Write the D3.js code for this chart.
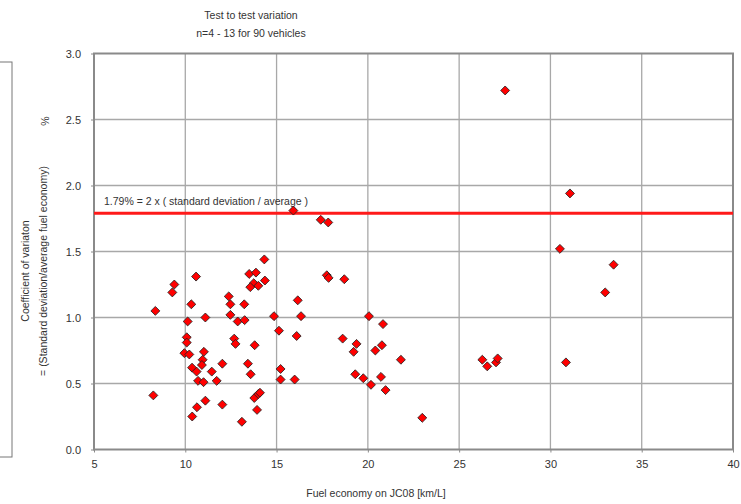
<!DOCTYPE html>
<html>
<head>
<meta charset="utf-8">
<script src="https://cdn.jsdelivr.net/npm/d3@7.9.0/dist/d3.min.js"></script>
<style>
  body { margin: 0; background: #fff; }
  svg { display: block; font-family: "Liberation Sans", Arial, sans-serif; }
</style>
</head>
<body>
<svg id="chart" width="741" height="504"></svg>
<script>
// Fuel economy (km/L) per vehicle
const fuelEconomy = [
  27.52, 31.07, 30.52, 33.46, 33.0, 30.85, 26.27, 26.54, 27.02, 27.11,
  15.92, 17.42, 17.83, 14.33, 14.36, 17.75, 17.85, 18.71, 16.16, 14.86,
  16.34, 15.13, 16.1, 20.06, 20.83, 18.62, 19.38, 19.22, 20.41, 20.77,
  21.81, 15.22, 15.22, 15.99, 19.31, 19.75, 20.17, 20.72, 20.97, 22.98,
  10.59, 9.4, 9.29, 13.5, 13.87, 13.75, 13.56, 14.0, 8.36, 10.33,
  12.38, 12.47, 13.23, 11.1, 12.47, 12.87, 13.25, 10.13, 10.08, 10.08,
  12.68, 12.75, 13.8, 9.95, 10.22, 11.02, 10.95, 10.91, 10.37, 10.62,
  11.45, 12.03, 13.43, 13.58, 10.7, 11.0, 11.72, 8.25, 11.1, 10.64,
  10.38, 12.03, 13.1, 13.78, 14.0, 14.09, 13.93
];
// Coefficient of variation (%) per vehicle, same order
const coefVariation = [
  2.72, 1.94, 1.52, 1.40, 1.19, 0.66, 0.68, 0.63, 0.66, 0.69,
  1.81, 1.74, 1.72, 1.44, 1.28, 1.32, 1.30, 1.29, 1.13, 1.01,
  1.01, 0.90, 0.86, 1.01, 0.95, 0.84, 0.80, 0.74, 0.75, 0.79,
  0.68, 0.61, 0.53, 0.53, 0.57, 0.54, 0.49, 0.55, 0.45, 0.24,
  1.31, 1.25, 1.19, 1.33, 1.34, 1.26, 1.23, 1.24, 1.05, 1.10,
  1.16, 1.10, 1.10, 1.00, 1.02, 0.97, 0.98, 0.97, 0.85, 0.81,
  0.84, 0.80, 0.79, 0.73, 0.72, 0.74, 0.68, 0.64, 0.62, 0.59,
  0.59, 0.65, 0.65, 0.57, 0.52, 0.51, 0.52, 0.41, 0.37, 0.32,
  0.25, 0.34, 0.21, 0.39, 0.42, 0.43, 0.30
];
const xTicks = [5, 10, 15, 20, 25, 30, 35, 40];
const yTicks = [0, 0.5, 1.0, 1.5, 2.0, 2.5, 3.0];
const limitValue = 1.79;

const titleLines = ["Test to test variation", "n=4 - 13 for 90 vehicles"];
const xLabel = "Fuel economy on JC08 [km/L]";
const yLabelLines = ["Coefficient of variaton", "= (Standard deviation/average fuel economy)"];
const limitLabel = "1.79% = 2 x ( standard deviation / average )";

const points = fuelEconomy.map((x, i) => ({ x, y: coefVariation[i] }));

const svg = d3.select("#chart");
const x = d3.scaleLinear().domain([5, 40]).range([94, 733]);
const y = d3.scaleLinear().domain([0, 3]).range([449.5, 53.5]);

// left partial frame (cut-off box in source)
svg.append("rect")
  .attr("x", -2).attr("y", 62).attr("width", 14).attr("height", 395)
  .attr("fill", "none").attr("stroke", "#777").attr("stroke-width", 1);

// grid
svg.append("g").selectAll("line").data(xTicks.slice(1, -1)).join("line")
  .attr("x1", d => x(d)).attr("x2", d => x(d))
  .attr("y1", y(3)).attr("y2", y(0))
  .attr("stroke", "#a8a8a8").attr("stroke-width", 1.3);
svg.append("g").selectAll("line").data(yTicks.slice(1, -1)).join("line")
  .attr("x1", x(5)).attr("x2", x(40))
  .attr("y1", d => y(d)).attr("y2", d => y(d))
  .attr("stroke", "#a8a8a8").attr("stroke-width", 1.3);

// plot frame
svg.append("rect")
  .attr("x", x(5)).attr("y", y(3))
  .attr("width", x(40) - x(5)).attr("height", y(0) - y(3))
  .attr("fill", "none").attr("stroke", "#8a8a8a").attr("stroke-width", 2);

// axes
const xAxis = svg.append("g")
  .attr("transform", `translate(0,${y(0)})`)
  .call(d3.axisBottom(x).tickValues(xTicks).tickSize(3).tickFormat(d3.format("d")));
const yAxis = svg.append("g")
  .attr("transform", `translate(${x(5)},0)`)
  .call(d3.axisLeft(y).tickValues(yTicks).tickSize(3).tickFormat(d3.format(".1f")));
[xAxis, yAxis].forEach(g => {
  g.select(".domain").remove();
  g.selectAll(".tick line").attr("stroke", "#8a8a8a");
  g.selectAll(".tick text").attr("fill", "#333").style("font-size", "11px")
    .style("font-family", "'Liberation Sans', Arial, sans-serif");
});
xAxis.selectAll(".tick text").attr("dy", "1.1em");
yAxis.selectAll(".tick text").attr("x", -13);

// limit line
svg.append("line")
  .attr("x1", x(5)).attr("x2", x(40))
  .attr("y1", y(limitValue)).attr("y2", y(limitValue))
  .attr("stroke", "#ff1a1a").attr("stroke-width", 3);
svg.append("text")
  .attr("x", 104).attr("y", 205)
  .attr("font-size", 10.5).attr("fill", "#333")
  .text(limitLabel);

// points
svg.append("g").selectAll("path").data(points).join("path")
  .attr("d", d3.symbol(d3.symbolSquare, 40))
  .attr("transform", d => `translate(${x(d.x)},${y(d.y)}) rotate(45)`)
  .attr("fill", "#ff0000").attr("stroke", "#222").attr("stroke-width", 0.8);

// titles
svg.append("g").selectAll("text").data(titleLines).join("text")
  .attr("x", 251).attr("y", (d, i) => 19 + i * 18)
  .attr("text-anchor", "middle").attr("font-size", 10.5).attr("fill", "#333")
  .text(d => d);

svg.append("text")
  .attr("x", 376).attr("y", 497)
  .attr("text-anchor", "middle").attr("font-size", 10.5).attr("fill", "#333")
  .text(xLabel);

svg.append("g").selectAll("text").data(yLabelLines).join("text")
  .attr("transform", (d, i) => `translate(${29 + i * 18},271) rotate(-90)`)
  .attr("text-anchor", "middle").attr("font-size", 10.5).attr("fill", "#333")
  .text(d => d);
svg.append("text")
  .attr("transform", `translate(49,121) rotate(-90)`)
  .attr("text-anchor", "middle").attr("font-size", 10.5).attr("fill", "#333")
  .text("%");
</script>
</body>
</html>
